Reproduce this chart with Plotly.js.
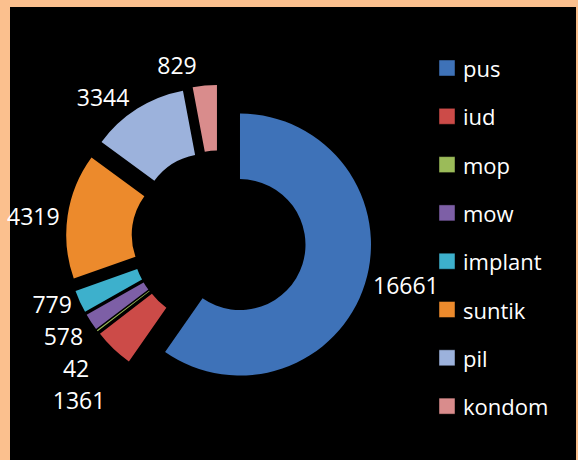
<!DOCTYPE html>
<html>
<head>
<meta charset="utf-8">
<script src="https://cdn.plot.ly/plotly-3.0.1.min.js"></script>
<style>html,body{margin:0;padding:0;background:#FBC08E;}#chart{width:578px;height:460px;}path.textline{display:none;}</style>
</head>
<body>
<div id="chart"></div>
<script>
const categories = ["pus", "iud", "mop", "mow", "implant", "suntik", "pil", "kondom"];
const values = [16661, 1361, 42, 578, 779, 4319, 3344, 829];
const colors = ["#3E72B8", "#CC4B48", "#9BBB59", "#7D5FA6", "#3DB0CC", "#EC8A2C", "#9CB2DC", "#D98C8C"];

const W = 578, H = 460;
const px = v => v / W;
const py = v => 1 - v / H;

const pie = {
  type: "pie",
  labels: categories,
  values: values,
  sort: false,
  direction: "clockwise",
  rotation: 0,
  hole: 0.5,
  pull: categories.map(() => 0.168),
  marker: {colors: colors, line: {color: "rgba(0,0,0,0)", width: 0}},
  texttemplate: "%{value:.0f}",
  textposition: "outside",
  textfont: {family: "Open Sans", size: 23, color: "#ffffff"},
  outsidetextfont: {family: "Open Sans", size: 23, color: "#ffffff"},
  hoverinfo: "skip",
  showlegend: false,
  domain: {x: [px(66), px(372)], y: [py(391), py(85)]}
};

const shapes = [{
  type: "rect", xref: "paper", yref: "paper", layer: "below",
  x0: px(10), x1: px(576), y0: 0, y1: py(7),
  fillcolor: "#000000", line: {width: 0}
}];
const annotations = [];
const legTop = 68, legStep = 48.3;
categories.forEach((c, i) => {
  const cy = legTop + i * legStep;
  shapes.push({
    type: "rect", xref: "paper", yref: "paper", layer: "above",
    x0: px(439), x1: px(455), y0: py(cy + 8), y1: py(cy - 8),
    fillcolor: colors[i], line: {color: "rgba(0,0,0,0.45)", width: 1}
  });
  annotations.push({
    xref: "paper", yref: "paper", x: px(461), y: py(cy),
    xanchor: "left", yanchor: "middle", showarrow: false,
    text: c, font: {family: "Open Sans", size: 22, color: "#ffffff"}
  });
});

const layout = {
  width: W, height: H,
  margin: {l: 0, r: 0, t: 0, b: 0},
  paper_bgcolor: "#FBC08E",
  plot_bgcolor: "#000000",
  showlegend: false,
  shapes: shapes,
  annotations: annotations
};

Plotly.newPlot("chart", [pie], layout, {displayModeBar: false, staticPlot: true});
</script>
</body>
</html>
